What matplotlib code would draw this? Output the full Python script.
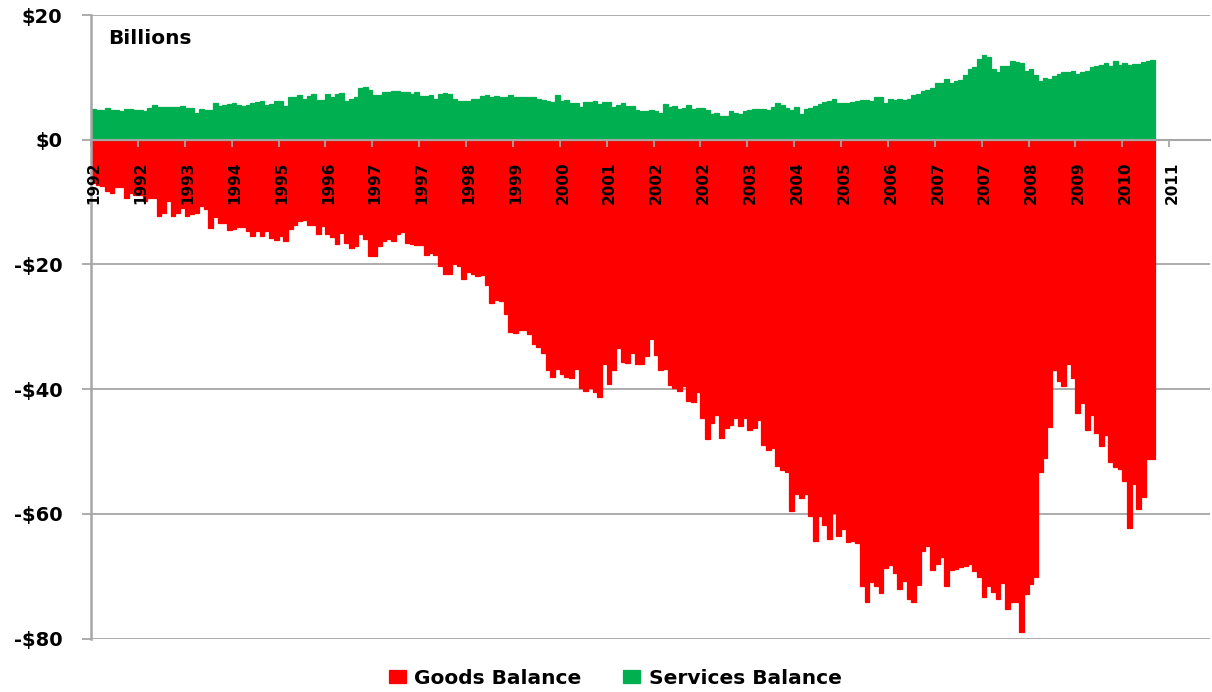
import numpy as np
import matplotlib.pyplot as plt
import matplotlib.transforms as mtransforms
from matplotlib.ticker import FuncFormatter

# Saldo mensal (US$ bilhões), jan/1992 a nov/2010 - uma linha por ano
goods_balance = [
    -7.0, -7.2, -7.5, -8.3, -8.6, -7.6, -7.6, -9.4, -8.5, -8.8, -8.8, -9.8,
    -9.3, -9.3, -12.2, -11.8, -9.8, -12.2, -11.7, -11.0, -12.2, -11.9, -11.7, -10.6,
    -11.1, -14.1, -12.4, -13.3, -13.3, -14.5, -14.4, -14.0, -14.0, -14.7, -15.5, -14.6,
    -15.5, -14.6, -15.8, -16.1, -15.4, -16.2, -14.4, -13.7, -13.1, -12.9, -13.7, -13.7,
    -15.1, -13.8, -15.1, -15.6, -16.7, -15.0, -16.6, -17.3, -17.0, -15.1, -15.9, -18.6,
    -18.6, -17.0, -16.2, -15.9, -16.3, -15.1, -14.8, -16.6, -16.8, -16.9, -16.9, -18.5,
    -18.2, -18.5, -20.3, -21.5, -21.5, -19.9, -20.3, -22.3, -21.2, -21.5, -21.8, -21.7,
    -23.3, -26.2, -25.7, -25.8, -28.0, -30.9, -31.0, -30.5, -30.5, -31.1, -32.8, -33.2,
    -34.2, -37.0, -38.1, -36.7, -37.5, -38.1, -38.2, -36.8, -39.8, -40.3, -39.8, -40.5,
    -41.3, -35.9, -39.2, -36.9, -33.4, -35.6, -35.8, -34.2, -36.0, -35.9, -34.7, -32.0,
    -34.6, -37.0, -36.8, -39.4, -39.8, -40.3, -39.5, -41.9, -42.1, -40.4, -44.6, -48.0,
    -45.4, -44.2, -47.9, -46.2, -45.8, -44.6, -45.9, -44.6, -46.6, -46.3, -44.9, -48.9,
    -49.7, -49.5, -52.4, -52.9, -53.3, -59.6, -56.9, -57.5, -56.8, -60.4, -64.4, -60.4,
    -61.8, -64.1, -59.9, -63.5, -62.4, -64.5, -64.4, -64.7, -71.5, -74.1, -70.9, -71.5,
    -72.7, -68.7, -68.2, -69.5, -72.0, -70.7, -73.7, -74.1, -71.4, -65.9, -65.2, -69.0,
    -68.0, -67.0, -71.5, -69.0, -68.8, -68.6, -68.4, -68.1, -69.1, -70.2, -73.3, -71.5,
    -72.5, -73.7, -71.1, -75.2, -74.1, -74.1, -79.0, -72.8, -71.2, -70.2, -53.3, -51.1,
    -46.1, -36.9, -38.7, -39.5, -36.0, -38.2, -43.8, -42.2, -46.5, -44.1, -47.1, -49.2,
    -47.3, -51.7, -52.5, -52.8, -54.8, -62.3, -55.3, -59.3, -57.3, -51.2, -51.2,
]

services_balance = [
    4.88, 4.72, 4.72, 5.04, 4.72, 4.72, 4.56, 4.88, 4.88, 4.72, 4.72, 4.56,
    5.04, 5.52, 5.20, 5.20, 5.20, 5.20, 5.20, 5.36, 5.04, 5.04, 4.29, 4.88,
    4.72, 4.72, 5.84, 5.42, 5.58, 5.74, 5.90, 5.58, 5.42, 5.58, 5.90, 6.06,
    6.17, 5.58, 5.74, 6.17, 6.17, 5.42, 6.81, 6.81, 7.18, 6.49, 7.02, 7.35,
    6.38, 6.38, 7.35, 6.86, 7.35, 7.45, 6.22, 6.49, 6.86, 8.26, 8.42, 7.94,
    7.18, 7.18, 7.67, 7.67, 7.77, 7.77, 7.67, 7.67, 7.35, 7.61, 7.02, 7.02,
    7.18, 6.54, 7.29, 7.45, 7.35, 6.49, 6.22, 6.22, 6.22, 6.54, 6.54, 6.97,
    7.18, 6.86, 7.02, 6.81, 6.90, 7.18, 6.81, 6.81, 6.81, 6.81, 6.81, 6.54,
    6.38, 6.22, 6.06, 7.18, 6.22, 6.38, 5.90, 5.90, 5.25, 6.06, 6.06, 6.22,
    5.74, 6.06, 6.06, 5.25, 5.50, 5.90, 5.36, 5.36, 4.72, 4.56, 4.56, 4.72,
    4.56, 4.29, 5.68, 5.20, 5.36, 4.93, 5.15, 5.52, 4.88, 5.04, 5.04, 4.72,
    4.08, 4.24, 3.75, 3.75, 4.56, 4.29, 4.08, 4.56, 4.72, 4.88, 4.88, 4.88,
    4.72, 5.20, 5.84, 5.52, 5.04, 4.72, 5.20, 4.08, 4.88, 5.04, 5.36, 5.68,
    6.01, 6.17, 6.49, 5.84, 5.84, 5.84, 6.01, 6.17, 6.33, 6.33, 6.17, 6.81,
    6.81, 5.84, 6.49, 6.33, 6.49, 6.33, 6.49, 7.13, 7.35, 7.77, 7.99, 8.26,
    9.06, 9.06, 9.71, 9.06, 9.38, 9.54, 10.35, 11.31, 11.64, 12.92, 13.57, 13.30,
    11.31, 10.88, 11.80, 11.80, 12.60, 12.44, 12.28, 10.99, 11.31, 10.40, 9.38, 9.87,
    9.71, 10.19, 10.51, 10.83, 10.83, 10.99, 10.56, 10.83, 10.99, 11.58, 11.80, 11.96,
    12.28, 11.80, 12.60, 11.96, 12.28, 12.01, 12.12, 12.12, 12.44, 12.60, 12.76,
]

# rótulos do eixo x: um a cada 10 meses (categorias do Excel)
tick_step = 10
tick_labels = ['1992', '1992', '1993', '1994', '1995', '1996', '1997', '1997',
               '1998', '1999', '2000', '2001', '2002', '2002', '2003', '2004',
               '2005', '2006', '2007', '2007', '2008', '2009', '2010', '2011']
n_categories = 238.7  # o eixo segue além do último mês com dado

VERMELHO = '#FF0000'
VERDE = '#00B050'
CINZA = '#A6A6A6'

W, H = 1212, 692
fig = plt.figure(figsize=(W / 100, H / 100), dpi=100)
# área do gráfico em pixels: x 91..1210, y 15..638
ax = fig.add_axes([91 / W, 1 - 638.5 / H, (1210 - 91) / W, (638.5 - 15) / H])

meses = np.arange(len(goods_balance))
# contorno da mesma cor para não sobrar fresta entre barras vizinhas
ax.bar(meses, goods_balance, width=1.0, align='edge', color=VERMELHO,
       edgecolor=VERMELHO, linewidth=0.9, label='Goods Balance')
ax.bar(meses, services_balance, width=1.0, align='edge', color=VERDE,
       edgecolor=VERDE, linewidth=0.9, label='Services Balance')

ax.set_xlim(0, n_categories)
ax.set_ylim(-80, 20)

# Eixo y
ax.set_yticks(range(-80, 21, 20))
ax.yaxis.set_major_formatter(FuncFormatter(lambda v, p: f"-${abs(v):.0f}" if v < 0 else f"${v:.0f}"))
ax.tick_params(axis='y', direction='out', length=6.5, width=1.3, color=CINZA,
               pad=14, labelsize=14)
for lbl in ax.get_yticklabels():
    lbl.set_fontweight('bold')
ax.yaxis.grid(True, color=CINZA, linewidth=1.3)
ax.set_axisbelow(True)

# Eixo x passando pelo zero, rótulos na vertical por cima das barras
ax.xaxis.set_zorder(3)
ax.spines['bottom'].set_position(('data', 0))
ax.spines['bottom'].set_color(CINZA)
ax.spines['bottom'].set_linewidth(1.5)
ax.spines['bottom'].set_zorder(3)
ax.spines['left'].set_color(CINZA)
ax.spines['left'].set_linewidth(1.8)
ax.spines['top'].set_visible(False)
ax.spines['right'].set_visible(False)

ax.set_xticks(np.arange(len(tick_labels)) * tick_step)
ax.set_xticklabels(tick_labels, rotation=90, fontsize=11, fontweight='bold')
ax.tick_params(axis='x', direction='out', length=4.7, width=1.3, color=CINZA, pad=11)
desloc = mtransforms.ScaledTranslation(3 / 100, 0, fig.dpi_scale_trans)
for lbl in ax.get_xticklabels():
    lbl.set_transform(lbl.get_transform() + desloc)

fig.text(108 / W, 1 - 44 / H, 'Billions', fontsize=14.5, fontweight='bold', va='baseline')

handles, labels = ax.get_legend_handles_labels()
fig.legend(handles, labels, loc='center', bbox_to_anchor=(615 / W, 1 - 678 / H),
           ncol=2, frameon=False, prop={'size': 14.5, 'weight': 'bold'},
           handlelength=0.85, handleheight=0.65, handletextpad=0.4,
           columnspacing=2.1, borderpad=0)

fig.savefig('out.png', dpi=100)
